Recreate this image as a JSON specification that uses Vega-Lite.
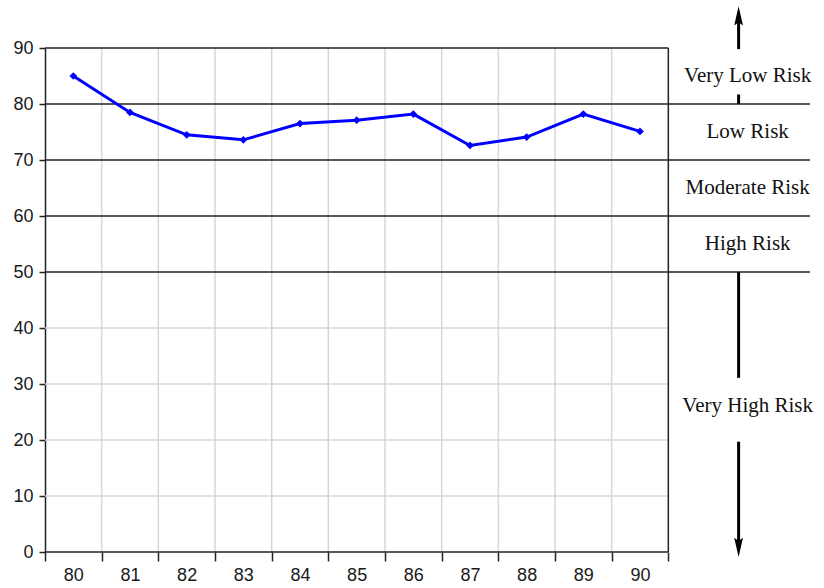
{
  "$schema": "https://vega.github.io/schema/vega-lite/v6.json",
  "width": 765,
  "height": 504,
  "autosize": "none",
  "padding": {"left": 45, "top": 48, "right": 14, "bottom": 36},
  "background": "white",
  "config": {"view": {"stroke": null}, "font": "Liberation Sans"},
  "datasets": {
    "series": [
      {"year": 80, "score": 85.0},
      {"year": 81, "score": 78.5},
      {"year": 82, "score": 74.5},
      {"year": 83, "score": 73.6},
      {"year": 84, "score": 76.5},
      {"year": 85, "score": 77.1},
      {"year": 86, "score": 78.2},
      {"year": 87, "score": 72.6},
      {"year": 88, "score": 74.1},
      {"year": 89, "score": 78.2},
      {"year": 90, "score": 75.1}
    ],
    "vgrid": [{"b": 80.5}, {"b": 81.5}, {"b": 82.5}, {"b": 83.5}, {"b": 84.5}, {"b": 85.5}, {"b": 86.5}, {"b": 87.5}, {"b": 88.5}, {"b": 89.5}],
    "hgrid": [{"v": 10}, {"v": 20}, {"v": 30}, {"v": 40}],
    "levels": [{"v": 50}, {"v": 60}, {"v": 70}, {"v": 80}],
    "zones": [
      {"label": "Very Low Risk", "mid": 85},
      {"label": "Low Risk", "mid": 75},
      {"label": "Moderate Risk", "mid": 65},
      {"label": "High Risk", "mid": 55},
      {"label": "Very High Risk", "mid": 26}
    ]
  },
  "layer": [
    {
      "data": {"name": "vgrid"},
      "mark": {"type": "rule", "color": "#d6d6d6", "strokeWidth": 1.5},
      "encoding": {
        "x": {
          "field": "b", "type": "quantitative",
          "scale": {"domain": [79.5, 93.0], "nice": false, "zero": false},
          "axis": {
            "values": [79.5, 80.5, 81.5, 82.5, 83.5, 84.5, 85.5, 86.5, 87.5, 88.5, 89.5, 90.5],
            "labelExpr": "datum.value < 90 ? format(datum.value + 0.5, 'd') : ''",
            "labelOffset": 28.3,
            "domain": false, "grid": false,
            "ticks": true, "tickSize": 9, "tickColor": "#222222", "tickWidth": 1.5,
            "labelFontSize": 18, "labelColor": "#1a1a1a", "labelPadding": 5,
            "labelFlush": false, "labelOverlap": false, "title": null
          }
        },
        "y": {
          "datum": 0, "type": "quantitative",
          "scale": {"domain": [0, 90], "nice": false},
          "axis": {
            "values": [0, 10, 20, 30, 40, 50, 60, 70, 80, 90],
            "domain": true, "domainColor": "#222222", "domainWidth": 1.5,
            "grid": false, "tickSize": 6, "tickColor": "#222222", "tickWidth": 1.5,
            "labelFontSize": 18, "labelColor": "#1a1a1a", "labelPadding": 6,
            "labelFlush": false, "labelOverlap": false, "title": null
          }
        },
        "y2": {"datum": 90}
      }
    },
    {
      "data": {"name": "hgrid"},
      "mark": {"type": "rule", "color": "#d6d6d6", "strokeWidth": 1.5},
      "encoding": {
        "y": {"field": "v", "type": "quantitative"},
        "x": {"datum": 79.5, "type": "quantitative"},
        "x2": {"datum": 90.5}
      }
    },
    {
      "data": {"name": "levels"},
      "mark": {"type": "rule", "color": "#222222", "strokeWidth": 1.5},
      "encoding": {
        "y": {"field": "v", "type": "quantitative"},
        "x": {"datum": 79.5, "type": "quantitative"},
        "x2": {"datum": 93.0}
      }
    },
    {
      "data": {"values": [{}]},
      "mark": {"type": "rule", "color": "#222222", "strokeWidth": 1.5},
      "encoding": {
        "y": {"datum": 90, "type": "quantitative"},
        "x": {"datum": 79.5, "type": "quantitative"},
        "x2": {"datum": 90.5}
      }
    },
    {
      "data": {"values": [{}]},
      "mark": {"type": "rule", "color": "#222222", "strokeWidth": 1.5},
      "encoding": {
        "y": {"datum": 0, "type": "quantitative"},
        "x": {"datum": 79.5, "type": "quantitative"},
        "x2": {"datum": 90.5}
      }
    },
    {
      "data": {"values": [{}]},
      "mark": {"type": "rule", "color": "#222222", "strokeWidth": 1.5},
      "encoding": {
        "x": {"datum": 90.5, "type": "quantitative"},
        "y": {"datum": 0, "type": "quantitative"},
        "y2": {"datum": 90}
      }
    },
    {
      "data": {"name": "series"},
      "mark": {"type": "line", "color": "#0000ff", "strokeWidth": 3,
        "point": {"filled": true, "shape": "diamond", "size": 60, "color": "#0000ff"}},
      "encoding": {
        "x": {"field": "year", "type": "quantitative"},
        "y": {"field": "score", "type": "quantitative"}
      }
    },
    {
      "data": {"name": "zones"},
      "mark": {"type": "text", "font": "Liberation Serif", "fontSize": 21, "color": "#111111", "align": "center", "baseline": "middle"},
      "encoding": {
        "x": {"datum": 91.9, "type": "quantitative"},
        "y": {"field": "mid", "type": "quantitative"},
        "text": {"field": "label"}
      }
    },
    {
      "data": {"values": [{}]},
      "mark": {"type": "rule", "color": "#000000", "strokeWidth": 3},
      "encoding": {"x": {"datum": 91.74, "type": "quantitative"}, "y": {"datum": 89.8, "type": "quantitative"}, "y2": {"datum": 95.5}}
    },
    {
      "data": {"values": [{}]},
      "mark": {"type": "rule", "color": "#000000", "strokeWidth": 3},
      "encoding": {"x": {"datum": 91.74, "type": "quantitative"}, "y": {"datum": 80, "type": "quantitative"}, "y2": {"datum": 81.7}}
    },
    {
      "data": {"values": [{}]},
      "mark": {"type": "rule", "color": "#000000", "strokeWidth": 3},
      "encoding": {"x": {"datum": 91.74, "type": "quantitative"}, "y": {"datum": 31.1, "type": "quantitative"}, "y2": {"datum": 50}}
    },
    {
      "data": {"values": [{}]},
      "mark": {"type": "rule", "color": "#000000", "strokeWidth": 3},
      "encoding": {"x": {"datum": 91.74, "type": "quantitative"}, "y": {"datum": 1.3, "type": "quantitative"}, "y2": {"datum": 19.7}}
    },
    {
      "data": {"values": [{}]},
      "mark": {"type": "point", "filled": true, "color": "#000000", "opacity": 1, "size": 484, "shape": "M0,-1L0.4,0.75L0,0.45L-0.4,0.75Z"},
      "encoding": {"x": {"datum": 91.74, "type": "quantitative"}, "y": {"datum": 95.48, "type": "quantitative"}}
    },
    {
      "data": {"values": [{}]},
      "mark": {"type": "point", "filled": true, "color": "#000000", "opacity": 1, "size": 484, "shape": "M0,1L0.4,-0.75L0,-0.45L-0.4,-0.75Z"},
      "encoding": {"x": {"datum": 91.74, "type": "quantitative"}, "y": {"datum": 1.07, "type": "quantitative"}}
    }
  ]
}
